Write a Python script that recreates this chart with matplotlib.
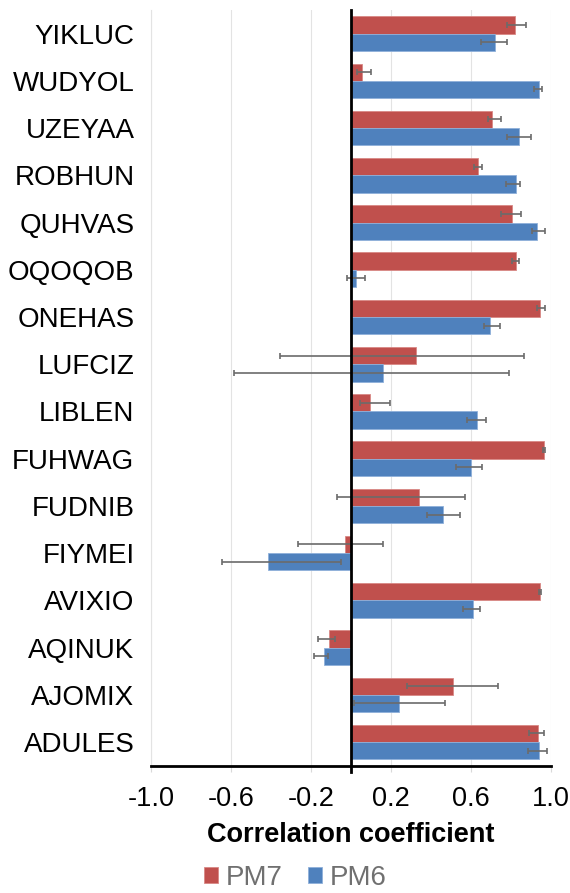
import matplotlib
matplotlib.use("Agg")
import matplotlib.pyplot as plt
import numpy as np

plt.rcParams['font.family'] = ['Liberation Sans', 'DejaVu Sans']

categories = ["YIKLUC", "WUDYOL", "UZEYAA", "ROBHUN", "QUHVAS", "OQOQOB", "ONEHAS",
              "LUFCIZ", "LIBLEN", "FUHWAG", "FUDNIB", "FIYMEI", "AVIXIO", "AQINUK",
              "AJOMIX", "ADULES"]

pm7 = [0.82, 0.055, 0.705, 0.637, 0.804, 0.827, 0.944, 0.327, 0.094, 0.964,
       0.339, -0.029, 0.946, -0.111, 0.509, 0.936]
pm7_lo = [0.780, 0.028, 0.684, 0.614, 0.749, 0.808, 0.933, -0.357, 0.046, 0.959,
          -0.071, -0.266, 0.941, -0.167, 0.281, 0.889]
pm7_hi = [0.876, 0.099, 0.751, 0.654, 0.849, 0.840, 0.969, 0.864, 0.197, 0.969,
          0.572, 0.162, 0.951, -0.078, 0.734, 0.966]

pm6 = [0.722, 0.940, 0.840, 0.824, 0.929, 0.024, 0.694, 0.159, 0.631, 0.601,
       0.462, -0.416, 0.612, -0.134, 0.242, 0.939]
pm6_lo = [0.649, 0.916, 0.781, 0.778, 0.904, -0.019, 0.666, -0.584, 0.581, 0.526,
          0.381, -0.644, 0.559, -0.184, 0.016, 0.886]
pm6_hi = [0.779, 0.956, 0.899, 0.847, 0.969, 0.069, 0.746, 0.791, 0.674, 0.654,
          0.546, -0.049, 0.646, -0.114, 0.469, 0.979]

xticks = [-1.0, -0.6, -0.2, 0.2, 0.6, 1.0]

red = "#C0504D"
blue = "#4F81BD"

fig = plt.figure(figsize=(5.70, 8.93), dpi=100)
ax = fig.add_axes([0.265, 0.1426, 0.7014, 0.8462])

n = len(categories)
y = np.arange(n)
h = 0.366

pm7 = np.array(pm7); pm6 = np.array(pm6)
e7 = [pm7 - np.array(pm7_lo), np.array(pm7_hi) - pm7]
e6 = [pm6 - np.array(pm6_lo), np.array(pm6_hi) - pm6]

ax.barh(y - h / 2, pm7, height=h, color=red, edgecolor="#D98885", linewidth=0.6,
        label="PM7", zorder=2)
ax.barh(y + h / 2, pm6, height=h, color=blue, edgecolor="#8FB0DA", linewidth=0.6,
        label="PM6", zorder=2)
ax.errorbar(pm7, y - h / 2, xerr=e7, fmt="none", ecolor="#6B6B6B", elinewidth=1.2,
            capsize=2.5, capthick=1.2, zorder=3)
ax.errorbar(pm6, y + h / 2, xerr=e6, fmt="none", ecolor="#6B6B6B", elinewidth=1.2,
            capsize=2.5, capthick=1.2, zorder=3)

ax.set_ylim(n - 0.5, -0.5)
ax.set_xlim(-1.0, 1.0)
ax.set_yticks(y)
ax.set_yticklabels(categories, fontsize=20)
ax.set_xticks(xticks)
ax.set_xticklabels([f"{t:.1f}" for t in xticks], fontsize=19.5)
ax.tick_params(axis="y", length=0, pad=12)
ax.tick_params(axis="x", length=4, width=0.8, color="#D9D9D9", pad=11)

ax.grid(axis="x", color="#E3E3E3", linewidth=0.8, zorder=0)
ax.set_axisbelow(True)
for s in ["left", "right", "top"]:
    ax.spines[s].set_visible(False)
ax.spines["bottom"].set_linewidth(2.0)
ax.spines["bottom"].set_color("black")
ax.axvline(-1.0, color="#E3E3E3", linewidth=0.8, zorder=0, clip_on=False)
ax.axvline(0, ymin=-0.008, ymax=1.0, color="black", linewidth=2.0, zorder=4, clip_on=False)

ax.set_xlabel("Correlation coefficient", fontsize=19.5, fontweight="bold", labelpad=7)

leg = fig.legend(loc="center", bbox_to_anchor=(0.518, 0.0165), ncol=2, frameon=False,
                 fontsize=20, handlelength=0.5, handleheight=0.5, handletextpad=0.3,
                 columnspacing=0.9, borderpad=0.0)
for t in leg.get_texts():
    t.set_color("#707070")

fig.savefig("out.png", dpi=100)
